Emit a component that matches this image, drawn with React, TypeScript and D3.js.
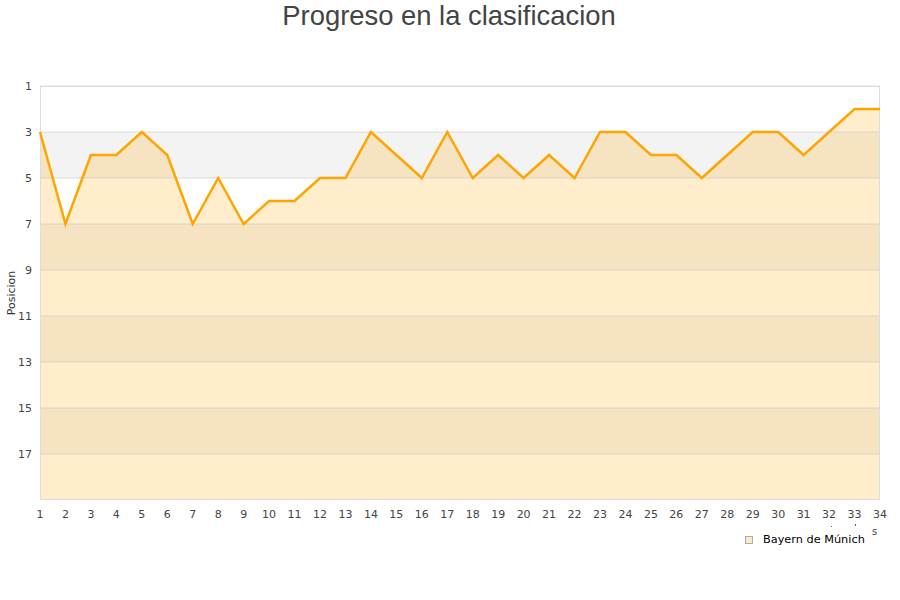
import React from "react";
import * as d3 from "d3";

const matchdays: number[] = d3.range(1, 35);
const positions: number[] = [3, 7, 4, 4, 3, 4, 7, 5, 7, 6, 6, 5, 5, 3, 4, 5, 3, 5, 4, 5, 4, 5, 3, 3, 4, 4, 5, 4, 3, 3, 4, 3, 2, 2];
const yTicks: number[] = [1, 3, 5, 7, 9, 11, 13, 15, 17];
const bandStarts: number[] = [1, 3, 5, 7, 9, 11, 13, 15, 17];
const title = "Progreso en la clasificacion";
const yTitle = "Posicion";
const seriesName = "Bayern de Múnich";

export default function App() {
  const W = 900, H = 600;
  const left = 40, right = 880, top = 86, bottom = 500;
  const x = d3.scaleLinear().domain([1, 34]).range([left, right]);
  const y = d3.scaleLinear().domain([1, 19]).range([top, bottom]);
  const data = matchdays.map((m, i) => ({ m, p: positions[i] }));
  const line = d3.line<{ m: number; p: number }>().x(d => x(d.m)).y(d => y(d.p));
  const area = d3.area<{ m: number; p: number }>().x(d => x(d.m)).y0(y(19)).y1(d => y(d.p));
  const font = "DejaVu Sans, Verdana, sans-serif";
  return (
    <svg width={W} height={H} style={{ position: "absolute", left: 0, top: 0 }}>
      <rect x={0} y={0} width={W} height={H} fill="#fff" />
      <text x={449} y={25} textAnchor="middle" fontFamily="Liberation Sans, Arial, sans-serif" fontSize={27.4} fill="#444">{title}</text>
      {bandStarts.map((b, i) => (
        <rect key={b} x={left} y={y(b)} width={right - left} height={y(b + 2) - y(b)} fill={i % 2 === 1 ? "#f3f3f3" : "#ffffff"} />
      ))}
      <path d={area(data) || ""} fill="rgba(255,165,0,0.2)" />
      {yTicks.map(t => (
        <line key={t} x1={left} x2={right} y1={y(t)} y2={y(t)} stroke="rgba(200,200,200,0.6)" strokeWidth={1} />
      ))}
      <rect x={left + 0.5} y={top + 0.5} width={right - left - 1} height={bottom - top - 1} fill="none" stroke="#ddd" />
      <path d={line(data) || ""} fill="none" stroke="#ffa500" strokeWidth={2.5} strokeLinejoin="miter" />
      {yTicks.map(t => (
        <text key={t} x={32} y={y(t) + 4} textAnchor="end" fontFamily={font} fontSize={11} fill="#444">{t}</text>
      ))}
      {matchdays.map(m => (
        <text key={m} x={x(m)} y={518} textAnchor="middle" fontFamily={font} fontSize={11} fill="#444">{m}</text>
      ))}
      <text transform={`translate(15,${(top + bottom) / 2}) rotate(-90)`} textAnchor="middle" fontFamily={font} fontSize={11} fill="#333">{yTitle}</text>
      <text x={872} y={535} fontFamily={font} fontSize={10} fill="#444">s</text>
      <rect x={831} y={526} width={1} height={1} fill="#666" />
      <rect x={855} y={524} width={1} height={2} fill="#666" />
      <rect x={745.5} y={536.5} width={7} height={7} fill="#fde9c6" stroke="#999" strokeWidth={0.8} />
      <text x={763} y={543} fontFamily={font} fontSize={11.3} fill="#000">{seriesName}</text>
    </svg>
  );
}
